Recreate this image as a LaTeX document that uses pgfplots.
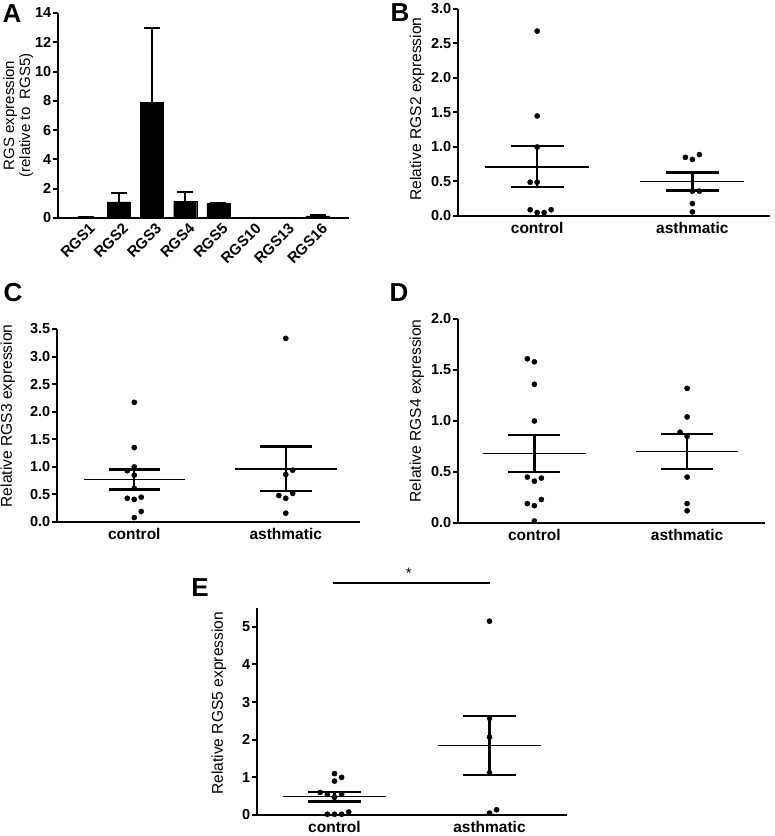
\documentclass[border=0pt]{standalone}
\usepackage{fontspec}
\setmainfont{Liberation Sans}
\usepackage{pgfplots}
\pgfplotsset{compat=1.18}
\pgfplotsset{
  gp/.style={
    scale only axis, clip=false,
    axis x line*=bottom, axis y line*=left,
    axis line style={line width=2.2pt,-},
    ymin=0,
    tick align=outside, major tick length=5pt,
    ytick style={line width=2pt,black},
    xtick style={draw=none},
    /pgf/number format/assume math mode=true,
    tick label style={font=\bfseries\fontsize{14.5}{15}\selectfont},
    yticklabel style={inner sep=1.5pt},
    xticklabel style={font=\bfseries\fontsize{15.5}{16}\selectfont, inner sep=1.5pt},
    label style={font=\fontsize{15.6}{17}\selectfont},
  },
  sc/.style={gp, xtick={1,2}, xticklabels={control,asthmatic},
    yticklabel style={/pgf/number format/fixed,/pgf/number format/fixed zerofill,/pgf/number format/precision=1}},
  dots/.style={only marks, mark=*, mark size=2.6pt, black},
  meanl/.style={black, line width=1.5pt, no marks},
  seml/.style={black, line width=2.3pt, no marks},
}
\begin{document}
\begin{tikzpicture}[x=1pt,y=1pt]
\useasboundingbox (0,0) rectangle (775,836);
% ---------------- A
\begin{axis}[gp, at={(58pt,618pt)}, anchor=south west, width=291pt, height=205pt,
  xmin=-0.83, xmax=7.93, ymax=14, ytick={0,2,...,14},
  xtick={0,...,7}, xticklabels={RGS1,RGS2,RGS3,RGS4,RGS5,RGS10,RGS13,RGS16},
  xticklabel style={rotate=45, anchor=north east, inner sep=1.5pt, xshift=4pt, font=\bfseries\fontsize{15}{15}\selectfont},
  ylabel={RGS expression\\(relative to\ \ RGS5)},
  ylabel style={align=center, font=\fontsize{15}{16}\selectfont, at={(axis description cs:-0.137,0.5)}, anchor=center}]
\addplot[ybar, bar width=23pt, fill=black, draw=black,
  error bars/.cd, y dir=plus, y explicit,
  error bar style={line width=2pt, black},
  error mark options={rotate=90, line width=2pt, mark size=8pt, black}]
  coordinates {(0,0.05) +- (0,0.02) (1,1.1) +- (0,0.6) (2,7.9) +- (0,5.05)
   (3,1.15) +- (0,0.6) (4,1.0) +- (0,0) (5,0.0) +- (0,0) (6,0.0) +- (0,0) (7,0.15) +- (0,0.05)};
\end{axis}
% ---------------- B
\begin{axis}[sc, at={(458pt,620pt)}, anchor=south west, width=312pt, height=207pt,
  xmin=0.49, xmax=2.50, ymax=3.0, ytick={0,0.5,...,3.0},
  ylabel={Relative RGS2 expression},
  ylabel style={at={(axis description cs:-0.131,0.517)}, anchor=center}]
\addplot[dots] coordinates {(1,2.68) (1,1.45) (1,1.0) (0.955,0.49) (1,0.49)
  (0.955,0.09) (1,0.05) (1.045,0.05) (1.09,0.09)};
\addplot[dots] coordinates {(1.955,0.85) (2,0.82) (2.045,0.89) (2,0.36) (2.045,0.36) (2,0.18) (2,0.06)};
\addplot[meanl] coordinates {(0.665,0.71) (1.335,0.71)};
\addplot[seml] coordinates {(1,0.42) (1,1.01)};
\addplot[seml] coordinates {(0.83,1.01) (1.17,1.01)};
\addplot[seml] coordinates {(0.83,0.42) (1.17,0.42)};
\addplot[meanl] coordinates {(1.665,0.50) (2.335,0.50)};
\addplot[seml] coordinates {(2,0.37) (2,0.63)};
\addplot[seml] coordinates {(1.83,0.63) (2.17,0.63)};
\addplot[seml] coordinates {(1.83,0.37) (2.17,0.37)};
\end{axis}
% ---------------- C
\begin{axis}[sc, at={(57pt,314pt)}, anchor=south west, width=303pt, height=193pt,
  xmin=0.49, xmax=2.49, ymax=3.5, ytick={0,0.5,...,3.5},
  ylabel={Relative RGS3 expression},
  ylabel style={at={(axis description cs:-0.162,0.55)}, anchor=center}]
\addplot[dots] coordinates {(1,2.17) (1,1.35) (1,1.0) (0.954,0.93) (1,0.85) (1,0.61)
  (0.954,0.43) (1,0.41) (1.046,0.45) (1.046,0.19) (1,0.08)};
\addplot[dots] coordinates {(2,3.33) (2.046,0.94) (2,0.86) (2.046,0.52) (1.954,0.48) (2,0.43) (2,0.16)};
\addplot[meanl] coordinates {(0.665,0.77) (1.335,0.77)};
\addplot[seml] coordinates {(1,0.59) (1,0.95)};
\addplot[seml] coordinates {(0.83,0.95) (1.17,0.95)};
\addplot[seml] coordinates {(0.83,0.59) (1.17,0.59)};
\addplot[meanl] coordinates {(1.665,0.96) (2.335,0.96)};
\addplot[seml] coordinates {(2,0.56) (2,1.37)};
\addplot[seml] coordinates {(1.83,1.37) (2.17,1.37)};
\addplot[seml] coordinates {(1.83,0.56) (2.17,0.56)};
\end{axis}
% ---------------- D
\begin{axis}[sc, at={(458pt,313pt)}, anchor=south west, width=307pt, height=204pt,
  xmin=0.50, xmax=2.51, ymax=2.0, ytick={0,0.5,...,2.0},
  ylabel={Relative RGS4 expression},
  ylabel style={at={(axis description cs:-0.134,0.55)}, anchor=center}]
\addplot[dots] coordinates {(0.954,1.61) (1,1.58) (1,1.36) (1,1.0) (0.954,0.45) (1,0.41)
  (1.046,0.44) (0.954,0.19) (1,0.17) (1.046,0.23) (1,0.02)};
\addplot[dots] coordinates {(2,1.32) (2,1.04) (1.954,0.89) (2,0.85) (2,0.45) (2,0.19) (2,0.12)};
\addplot[meanl] coordinates {(0.665,0.68) (1.335,0.68)};
\addplot[seml] coordinates {(1,0.50) (1,0.86)};
\addplot[seml] coordinates {(0.83,0.86) (1.17,0.86)};
\addplot[seml] coordinates {(0.83,0.50) (1.17,0.50)};
\addplot[meanl] coordinates {(1.665,0.70) (2.335,0.70)};
\addplot[seml] coordinates {(2,0.53) (2,0.87)};
\addplot[seml] coordinates {(1.83,0.87) (2.17,0.87)};
\addplot[seml] coordinates {(1.83,0.53) (2.17,0.53)};
\end{axis}
% ---------------- E
\begin{axis}[sc, at={(257pt,21pt)}, anchor=south west, width=310pt, height=207pt,
  xmin=0.50, xmax=2.50, ymax=5.5, ytick={0,1,...,5},
  yticklabel style={/pgf/number format/precision=0, /pgf/number format/fixed zerofill=false},
  ylabel={Relative RGS5 expression},
  ylabel style={at={(axis description cs:-0.123,0.54)}, anchor=center}]
\addplot[dots] coordinates {(1,1.1) (1,0.9) (1.046,1.0) (0.908,0.6) (0.954,0.55) (1,0.47)
  (1.046,0.55) (0.954,0.02) (1,0.02) (1.046,0.02) (1.092,0.08)};
\addplot[dots] coordinates {(2,5.15) (2,2.57) (2,2.07) (2,1.12) (2,0.05) (2.046,0.14)};
\addplot[meanl] coordinates {(0.665,0.49) (1.335,0.49)};
\addplot[seml] coordinates {(1,0.36) (1,0.62)};
\addplot[seml] coordinates {(0.83,0.62) (1.17,0.62)};
\addplot[seml] coordinates {(0.83,0.36) (1.17,0.36)};
\addplot[meanl] coordinates {(1.665,1.85) (2.335,1.85)};
\addplot[seml] coordinates {(2,1.07) (2,2.63)};
\addplot[seml] coordinates {(1.83,2.63) (2.17,2.63)};
\addplot[seml] coordinates {(1.83,1.07) (2.17,1.07)};
\addplot[seml, line width=2pt] coordinates {(0.99,6.17) (2.0,6.17)};
\node[font=\fontsize{15}{15}\selectfont] at (axis cs:1.48,6.42) {*};
\end{axis}
% ---------------- panel letters
\node[font=\bfseries\fontsize{26}{26}\selectfont] at (12,822) {A};
\node[font=\bfseries\fontsize{26}{26}\selectfont] at (400,823) {B};
\node[font=\bfseries\fontsize{26}{26}\selectfont] at (13,543) {C};
\node[font=\bfseries\fontsize{26}{26}\selectfont] at (399,543) {D};
\node[font=\bfseries\fontsize{26}{26}\selectfont] at (200,248) {E};
\end{tikzpicture}
\end{document}
